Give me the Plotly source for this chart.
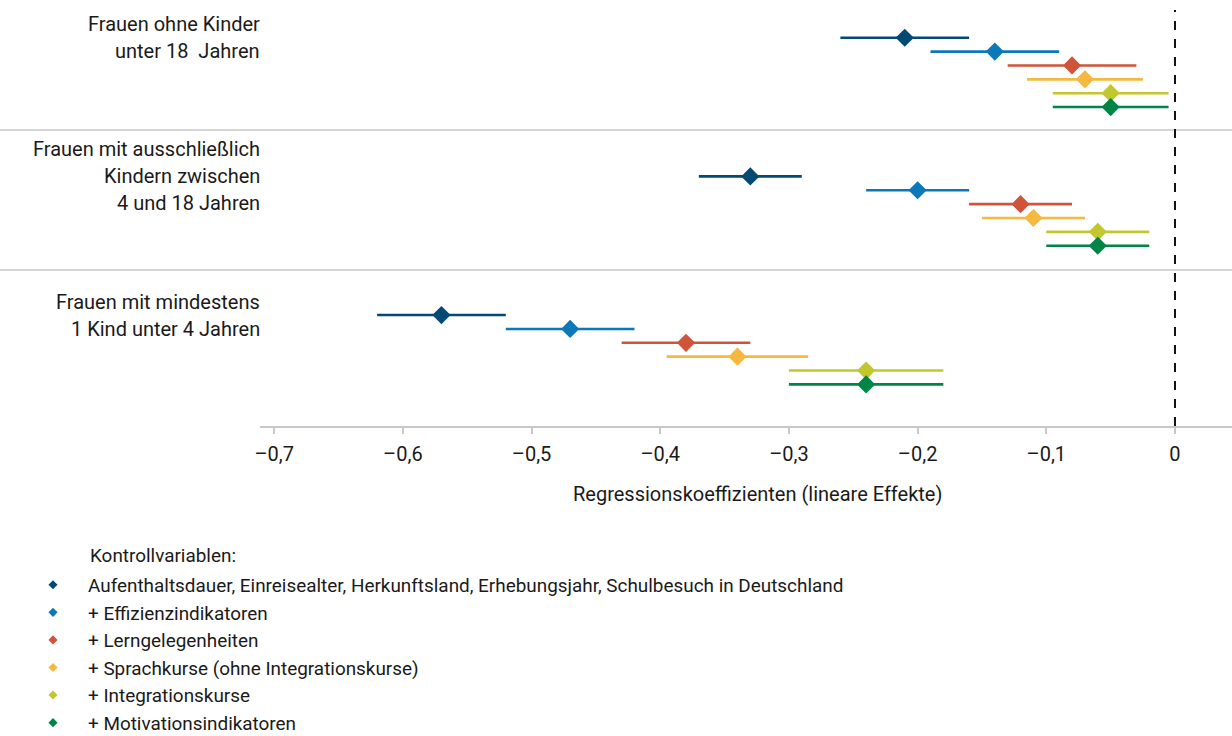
import plotly.graph_objects as go

# ---------------- data ----------------
group_labels = [
    ["Frauen ohne Kinder", "unter 18  Jahren"],
    ["Frauen mit ausschließlich", "Kindern zwischen", "4 und 18 Jahren"],
    ["Frauen mit mindestens", "1 Kind unter 4 Jahren"],
]

series_names = [
    "Aufenthaltsdauer, Einreisealter, Herkunftsland, Erhebungsjahr, Schulbesuch in Deutschland",
    "+ Effizienzindikatoren",
    "+ Lerngelegenheiten",
    "+ Sprachkurse (ohne Integrationskurse)",
    "+ Integrationskurse",
    "+ Motivationsindikatoren",
]
series_colors = ["#004a75", "#0a78b9", "#cf543a", "#f6b940", "#c3c72f", "#008548"]

# coefficients per group (ohne Kinder, 4-18 Jahre, unter 4 Jahre)
s1_coef = [-0.21, -0.33, -0.57]
s1_low = [-0.26, -0.37, -0.62]
s1_high = [-0.16, -0.29, -0.52]

s2_coef = [-0.14, -0.20, -0.47]
s2_low = [-0.19, -0.24, -0.52]
s2_high = [-0.09, -0.16, -0.42]

s3_coef = [-0.08, -0.12, -0.38]
s3_low = [-0.13, -0.16, -0.43]
s3_high = [-0.03, -0.08, -0.33]

s4_coef = [-0.07, -0.11, -0.34]
s4_low = [-0.115, -0.15, -0.395]
s4_high = [-0.025, -0.07, -0.285]

s5_coef = [-0.05, -0.06, -0.24]
s5_low = [-0.095, -0.10, -0.30]
s5_high = [-0.005, -0.02, -0.18]

s6_coef = [-0.05, -0.06, -0.24]
s6_low = [-0.095, -0.10, -0.30]
s6_high = [-0.005, -0.02, -0.18]

tick_vals = [-0.7, -0.6, -0.5, -0.4, -0.3, -0.2, -0.1, 0]
tick_text = ["–0,7", "–0,6", "–0,5", "–0,4", "–0,3", "–0,2", "–0,1", "0"]

x_title = "Regressionskoeffizienten (lineare Effekte)"
legend_title = "Kontrollvariablen:"

# ---------------- figure ----------------
coefs = [s1_coef, s2_coef, s3_coef, s4_coef, s5_coef, s6_coef]
lows = [s1_low, s2_low, s3_low, s4_low, s5_low, s6_low]
highs = [s1_high, s2_high, s3_high, s4_high, s5_high, s6_high]

GROUP_STEP = 10  # vertical slot units between groups
PX_PER_UNIT = 13.85
FONT = "Roboto"
FS = 20
LEG_FS = 18.9
TXT = "#1a1a1a"

W, H = 1232, 736
ML, MR, MT, MB = 260, 0, 10, 310
PW, PH = W - ML - MR, H - MT - MB


def px_x(p):
    return (p - ML) / PW


def px_y(p):
    return (H - MB - p) / PH


fig = go.Figure()

for i, (name, col) in enumerate(zip(series_names, series_colors)):
    c, lo, hi = coefs[i], lows[i], highs[i]
    ys = [g * GROUP_STEP + i for g in range(len(c))]
    fig.add_trace(go.Scatter(
        x=c, y=ys, mode="markers", name=name, showlegend=False,
        marker=dict(symbol="diamond", size=14, color=col),
        error_x=dict(type="data", symmetric=False,
                     array=[h - v for h, v in zip(hi, c)],
                     arrayminus=[v - l for v, l in zip(c, lo)],
                     color=col, thickness=2.6, width=0),
    ))

# legend-only entries
for i, (name, col) in enumerate(zip(series_names, series_colors)):
    fig.add_trace(go.Scatter(
        x=[None], y=[None], mode="markers", name=name,
        marker=dict(symbol="diamond", size=7, color=col),
    ))

# group labels (left margin), centred on the first row of each group
line_step = 27 / PX_PER_UNIT
for g, lines in enumerate(group_labels):
    n = len(lines)
    for k, line in enumerate(lines):
        fig.add_annotation(
            text=line, xref="paper", x=0, xanchor="right", xshift=2,
            yref="y", y=g * GROUP_STEP + (k - (n - 1) / 2) * line_step,
            yanchor="middle", showarrow=False,
            font=dict(family=FONT, size=FS, color=TXT),
        )

# separators between groups
for yy in [6.65, 16.75]:
    fig.add_shape(type="line", xref="paper", x0=px_x(0), x1=1,
                  yref="y", y0=yy, y1=yy,
                  line=dict(color="#c8c8c8", width=1.5))

# zero reference line
fig.add_shape(type="line", xref="x", x0=0, x1=0, yref="paper", y0=0, y1=1,
              line=dict(color="#111111", width=2, dash="dash"))

fig.add_annotation(text=x_title, xref="paper", x=px_x(757),
                   yref="paper", y=px_y(494), showarrow=False,
                   xanchor="center", yanchor="middle",
                   font=dict(family=FONT, size=FS, color=TXT))
fig.add_annotation(text=legend_title, xref="paper", x=px_x(88),
                   yref="paper", y=px_y(555), showarrow=False,
                   xanchor="left", yanchor="middle",
                   font=dict(family=FONT, size=LEG_FS, color=TXT))

fig.update_layout(
    width=W, height=H,
    margin=dict(l=ML, r=MR, t=MT, b=MB, autoexpand=False),
    paper_bgcolor="white", plot_bgcolor="white",
    font=dict(family=FONT, size=FS, color=TXT),
    showlegend=True,
    legend=dict(x=px_x(18), xanchor="left",
                y=px_y(566), yanchor="top",
                tracegroupgap=0, itemwidth=60,
                font=dict(family=FONT, size=LEG_FS, color=TXT),
                bgcolor="rgba(0,0,0,0)"),
    xaxis=dict(range=[-0.711, 0.0443], tickvals=tick_vals, ticktext=tick_text,
               showgrid=False, zeroline=False, showline=True,
               linecolor="#c8c8c8", linewidth=1.5,
               ticks="outside", ticklen=6, tickcolor="#c8c8c8", tickwidth=1.5,
               ticklabelstandoff=3,
               tickfont=dict(family=FONT, size=FS, color=TXT)),
    yaxis=dict(range=[28.0, -2.0], showticklabels=False, showgrid=False,
               zeroline=False, showline=False, ticks=""),
)

fig.write_html("out.html",
               config={"displayModeBar": False},
               post_script="document.body.style.margin='0';")
